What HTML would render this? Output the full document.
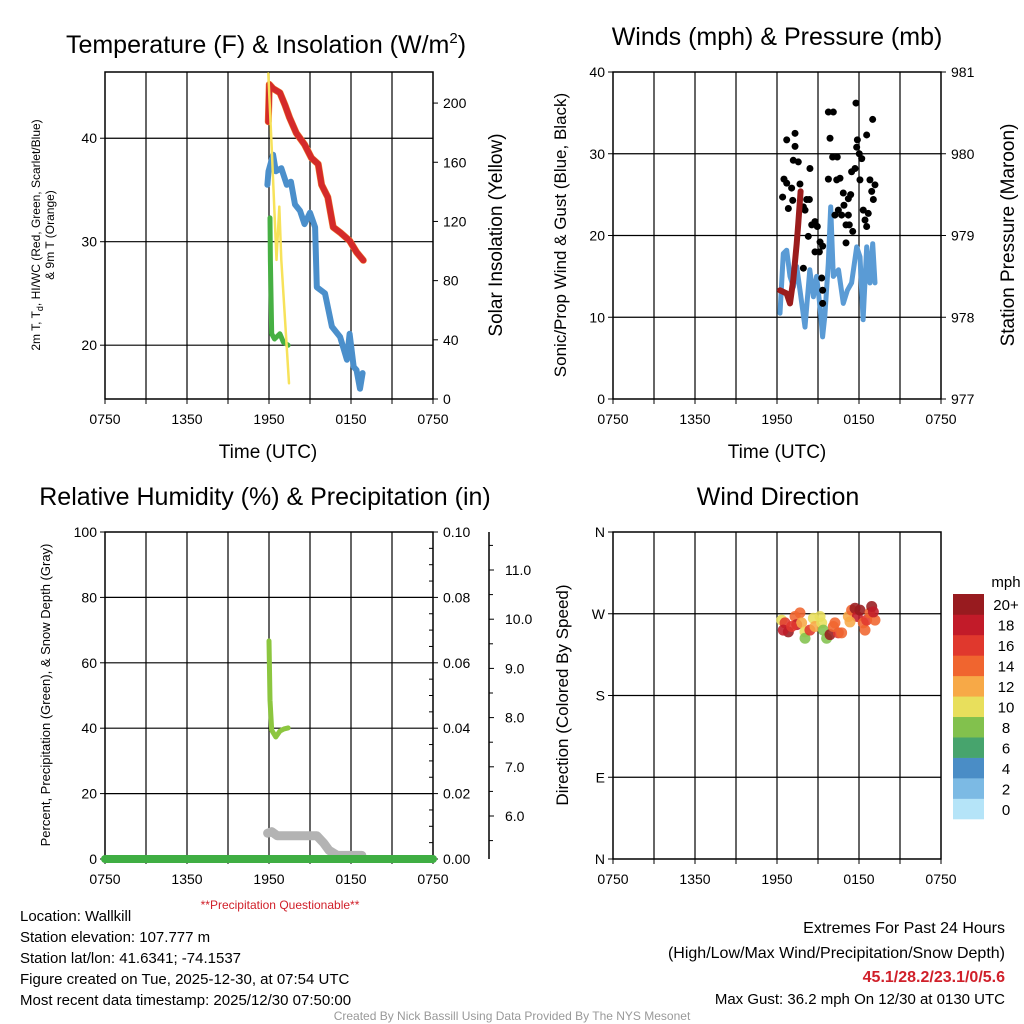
<!DOCTYPE html>
<html><head><meta charset="utf-8">
<style>
body{margin:0;background:#fff;}
svg{display:block;font-family:"Liberation Sans",Arial,sans-serif;}
</style></head>
<body>
<svg id="c" width="1024" height="1024" viewBox="0 0 1024 1024">
<rect width="1024" height="1024" fill="#fff"/>
<g id="g1"></g>
<g id="g2"></g>
<g id="g3"></g>
<g id="g4"></g>
<g font-size="15" fill="#000">
<text x="20" y="921">Location: Wallkill</text>
<text x="20" y="942">Station elevation: 107.777 m</text>
<text x="20" y="963">Station lat/lon: 41.6341; -74.1537</text>
<text x="20" y="984">Figure created on Tue, 2025-12-30, at 07:54 UTC</text>
<text x="20" y="1005">Most recent data timestamp: 2025/12/30 07:50:00</text>
<text x="1005" y="933" text-anchor="end" font-size="16">Extremes For Past 24 Hours</text>
<text x="1005" y="958" text-anchor="end" font-size="16">(High/Low/Max Wind/Precipitation/Snow Depth)</text>
<text x="1005" y="982" text-anchor="end" font-size="16" font-weight="bold" fill="#d0202a">45.1/28.2/23.1/0/5.6</text>
<text x="1005" y="1004" text-anchor="end" font-size="15">Max Gust: 36.2 mph On 12/30 at 0130 UTC</text>
<text x="512" y="1020" text-anchor="middle" font-size="12" fill="#999">Created By Nick Bassill Using Data Provided By The NYS Mesonet</text>
<text x="280" y="909" text-anchor="middle" font-size="12" fill="#d0202a">**Precipitation Questionable**</text>
</g>
</svg>
<script>
// ---- data (hours since 0750 UTC) ----
const xTickLabels = ["0750","1350","1950","0150","0750"];
const redT_h = [11.95,12.02,12.3,12.8,13.17,13.5,14.0,14.6,15.1,15.6,15.85,16.3,16.7,17.2,17.9,18.4,18.9];
const redT_v = [41.6,45.2,44.8,44.4,43.2,42.0,40.5,39.4,38.1,37.5,35.5,34.3,31.4,30.9,30.1,29.0,28.2];
const blueT_h = [11.88,11.96,12.3,12.5,12.9,13.3,13.6,13.9,14.27,14.6,15.0,15.37,15.5,16.1,16.6,17.2,17.7,17.9,18.2,18.4,18.66,18.85];
const blueT_v = [35.5,36.8,38.4,36.8,37.1,35.5,35.8,33.6,33.0,31.7,32.8,31.4,25.6,25.0,21.8,20.8,18.6,21.1,17.9,17.6,15.8,17.3];
const greenT_h = [12.07,12.1,12.2,12.4,12.8,13.05,13.4];
const greenT_v = [32.3,28.1,21.1,20.6,21.1,20.3,20.0];
const ins_h = [11.95,12.2,12.55,12.75,12.9,13.46];
const ins_v = [220,170,94,130,94,10.6];
const wind_h = [12.22,12.46,12.71,12.95,13.2,13.44,13.68,14.05,14.4,14.66,14.9,15.15,15.34,15.5,15.75,15.93,16.12,16.5,16.85,17.15,17.46,17.83,18.07,18.3,18.56,18.8,19.0,19.17];
const wind_v = [10.5,17.8,18.2,15.0,13.7,16.2,13.3,8.8,15.8,12.5,15.0,11.3,7.6,10.1,16.6,23.5,15.0,15.8,11.7,13.3,14.2,18.6,17.4,9.7,18.6,14.2,19.0,14.2];
const gust_h = [12.71,13.32,13.32,13.19,13.56,14.41,12.51,12.71,13.07,13.68,12.41,13.15,12.83,14.17,14.37,13.93,14.05,14.54,14.78,14.95,14.29,15.15,15.34,14.78,15.1,13.93,15.27,15.34,15.34,15.76,16.12,15.88,16.07,16.41,15.76,16.37,16.61,16.85,17.22,17.39,16.9,16.49,16.73,16.24,17.22,17.05,17.29,17.54,17.05,17.46,17.71,18.07,18.8,19.17,18.93,19.05,18.31,18.68,18.44,18.56,17.78,19.0,18.56,17.88,17.83,18.02,18.2];
const gust_v = [31.7,32.5,30.9,29.2,29.0,28.2,26.9,26.4,25.8,26.3,24.7,24.3,23.3,24.4,24.4,23.5,23.1,21.3,21.7,21.1,19.9,19.2,18.7,18.0,18.0,16.0,14.8,13.3,11.7,35.1,35.1,31.9,29.6,29.6,26.9,26.8,27.0,25.2,24.5,25.0,23.7,23.1,22.5,22.5,22.5,21.3,21.3,20.5,19.1,27.8,28.2,26.8,26.8,26.2,25.4,24.4,23.1,22.7,21.9,21.1,36.2,34.2,32.3,31.7,30.8,30.0,29.4];
const pres_h = [12.22,12.71,12.95,13.19,13.44,13.56,13.73];
const pres_v = [978.33,978.29,978.17,978.46,978.90,979.15,979.54];
const rh_h = [12.0,12.07,12.2,12.5,12.8,13.1,13.4];
const rh_v = [66.7,48.6,39.4,37.3,39.1,39.8,40.1];
const snow_h = [11.9,12.2,12.6,15.5,16.0,16.4,17.0,18.8];
const snow_v = [5.65,5.68,5.6,5.6,5.45,5.3,5.2,5.2];
const precip_h = [0,24];
const precip_v = [0,0];
const dir_h = [12.34,12.59,12.83,13.32,13.44,13.68,13.8,14.05,14.05,14.41,14.66,14.78,15.27,15.39,15.63,15.88,16.24,16.49,16.73,17.22,17.46,17.71,17.88,18.07,18.31,18.44,18.56,18.8,18.93,19.17,19.05,12.46,13.07,15.15,16.12,17.34];
const dir_v = [263,260,250,267,258,271,260,250,243,252,265,256,260,252,243,247,260,249,249,267,274,276,267,274,260,252,263,271,278,263,272,252,256,267,256,261];
const dir_spd = [10,16,20,14,18,14,12,10,8,16,10,12,10,8,8,20,14,16,14,12,14,20,18,20,14,14,16,14,20,14,18,18,16,10,14,12];
const cbLabels = ["0","2","4","6","8","10","12","14","16","18","20+"];
const cbColors = ["#b5e4f8","#7cbae4","#4a8dc6","#47a46d","#82c14d","#e8df5c","#f7a947","#f0652f","#e0382d","#c21b29","#981b1f"];

const NS="http://www.w3.org/2000/svg";
function mk(parent,tag,attrs){const e=document.createElementNS(NS,tag);for(const k in attrs)e.setAttribute(k,attrs[k]);parent.appendChild(e);return e;}
const PW=328, PH=327;
function xs(x0){return h=>x0+h*PW/24;}
function ys(y0,lo,hi){return v=>y0+PH-(v-lo)/(hi-lo)*PH;}

function frame(g,x0,y0,hLines,prefix){
  for(let i=1;i<8;i++){const l=mk(g,'line',{x1:x0+i*PW/8,x2:x0+i*PW/8,y1:y0,y2:y0+PH,stroke:'#000','stroke-width':1.2});
    
    }
  hLines.forEach(y=>{const l=mk(g,'line',{x1:x0,x2:x0+PW,y1:y,y2:y,stroke:'#000','stroke-width':1.2});
    
    });
  const r=mk(g,'rect',{x:x0,y:y0,width:PW,height:PH,fill:'none',stroke:'#000','stroke-width':1.5});
  
  
  for(let i=0;i<=8;i++){const t=mk(g,'line',{x1:x0+i*PW/8,x2:x0+i*PW/8,y1:y0+PH,y2:y0+PH+5,stroke:'#000'});
    
    }
  xTickLabels.forEach((s,i)=>{const t=mk(g,'text',{x:x0+i*PW/4,y:y0+PH+25,'text-anchor':'middle','font-size':14});t.textContent=s;
    
    });
}
function text(g,x,y,s,size,anchor,rot,name,extra){const a={x:x,y:y,'font-size':size,'text-anchor':anchor||'middle'};if(rot)a.transform=`rotate(-90 ${x} ${y})`;Object.assign(a,extra||{});const t=mk(g,'text',a);t.textContent=s;
  
  return t;}
function yticks(g,x,labels,ys,side,name,size,gap){labels.forEach((s,i)=>{const y=ys[i];mk(g,'line',{x1:x,x2:x+(side<0?-5:5),y1:y,y2:y,stroke:'#000'});
  const t=text(g,side<0?x-8:x+(gap||10),y+5,s,size||14,side<0?'end':'start',false,name);});}
function path(g,hs,vs,X,Y,color,w,name){let d='';hs.forEach((h,i)=>{d+=(i?'L':'M')+X(h).toFixed(1)+' '+Y(vs[i]).toFixed(1);});
  const p=mk(g,'path',{d:d,fill:'none',stroke:color,'stroke-width':w,'stroke-linecap':'round','stroke-linejoin':'round'});
  
  return p;}

// ---- Panel 1 ----
{const g=document.getElementById('g1');const x0=105,y0=72;const X=xs(x0);const Y=ys(y0,14.8,46.4);const Yi=ys(y0,0,221);
 frame(g,x0,y0,[Y(20),Y(30),Y(40)],'temp');
 yticks(g,x0,["20","30","40"],[Y(20),Y(30),Y(40)],-1,'temp-y-tick-label');
 yticks(g,x0+PW,["0","40","80","120","160","200"],[0,40,80,120,160,200].map(Yi),1,'insolation-y-tick-label');
 path(g,redT_h,redT_v,X,Y,'#f08030',7,'orange-9m-temp-line');
 path(g,redT_h,redT_v,X,Y,'#d42a2a',6,'red-temp-line');
 path(g,blueT_h,blueT_v,X,Y,'#4b8fcb',6,'blue-windchill-line');
 path(g,greenT_h,greenT_v,X,Y,'#46b043',5,'green-dewpoint-line');
 path(g,ins_h,ins_v,X,Yi,'#f7e25a',2.5,'yellow-insolation-line');
 const t=text(g,266,53,'Temperature (F) & Insolation (W/m',25,'middle',false,'temp-title');
 const sp=mk(t,'tspan',{dy:-10,'font-size':15});sp.textContent='2';const sp2=mk(t,'tspan',{dy:10});sp2.textContent=')';
 text(g,268,458,'Time (UTC)',19,'middle',false,'temp-x-axis-title');
 text(g,502,235,'Solar Insolation (Yellow)',19,'middle',true,'insolation-y-axis-title');
 const yl=text(g,40,235,'2m T, T',12,'middle',true,'temp-y-axis-title');
 const s1=mk(yl,'tspan',{'font-size':9,dy:3});s1.textContent='d';const s2=mk(yl,'tspan',{dy:-3});s2.textContent=', HI/WC (Red, Green, Scarlet/Blue)';
 text(g,54,235,'& 9m T (Orange)',12,'middle',true,'temp-y-axis-title-2');
}
// ---- Panel 2 ----
{const g=document.getElementById('g2');const x0=613,y0=72;const X=xs(x0);const Y=ys(y0,0,40);const Yp=ys(y0,977,981);
 frame(g,x0,y0,[Y(10),Y(20),Y(30)],'wind');
 yticks(g,x0,["0","10","20","30","40"],[0,10,20,30,40].map(Y),-1,'wind-y-tick-label');
 yticks(g,x0+PW,["977","978","979","980","981"],[977,978,979,980,981].map(Yp),1,'pressure-y-tick-label');
 path(g,wind_h,wind_v,X,Y,'#5a9bd5',5,'sustained-wind-line');
 gust_h.forEach((h,i)=>{const c=mk(g,'circle',{cx:X(h),cy:Y(gust_v[i]),r:3.5,fill:'#000'});
   
   });
 path(g,pres_h,pres_v,X,Yp,'#9b1c1c',6,'pressure-line');
 text(g,777,45,'Winds (mph) & Pressure (mb)',25,'middle',false,'wind-title');
 text(g,777,458,'Time (UTC)',19,'middle',false,'wind-x-axis-title');
 text(g,566,235,'Sonic/Prop Wind & Gust (Blue, Black)',17,'middle',true,'wind-y-axis-title');
 text(g,1014,235,'Station Pressure (Maroon)',19,'middle',true,'pressure-y-axis-title');
}
// ---- Panel 3 ----
{const g=document.getElementById('g3');const x0=105,y0=532;const X=xs(x0);const Y=ys(y0,0,100);const Ypr=ys(y0,0,0.1);const Ys=v=>816-(v-6)*49.2;
 frame(g,x0,y0,[Y(20),Y(40),Y(60),Y(80)],'rh');
 yticks(g,x0,["0","20","40","60","80","100"],[0,20,40,60,80,100].map(Y),-1,'rh-y-tick-label');
 yticks(g,x0+PW,["0.00","0.02","0.04","0.06","0.08","0.10"],[0,.02,.04,.06,.08,.1].map(Ypr),1,'precip-y-tick-label');
 for(let i=1;i<20;i++){if(i%4)mk(g,'line',{x1:x0+PW,x2:x0+PW-4,y1:Ypr(i*0.005),y2:Ypr(i*0.005),stroke:'#000'});}
 const ax=mk(g,'line',{x1:489,x2:489,y1:532,y2:859,stroke:'#000','stroke-width':1.5});
 
 
 yticks(g,489,["6.0","7.0","8.0","9.0","10.0","11.0"],[6,7,8,9,10,11].map(Ys),1,'snow-y-tick-label',14,16);
 [5.5,6.5,7.5,8.5,9.5,10.5,11.5].forEach(v=>mk(g,'line',{x1:489,x2:493,y1:Ys(v),y2:Ys(v),stroke:'#000'}));
 path(g,snow_h,snow_v,X,Ys,'#b3b3b3',9,'snow-depth-line');
 path(g,precip_h,precip_v,X,Ypr,'#3fae43',8,'precip-line');
 path(g,rh_h,rh_v,X,Y,'#8cc63f',5,'rh-line');
 text(g,265,505,'Relative Humidity (%) & Precipitation (in)',25,'middle',false,'rh-title');
 text(g,50,695,'Percent, Precipitation (Green), & Snow Depth (Gray)',13,'middle',true,'rh-y-axis-title');
}
// ---- Panel 4 ----
{const g=document.getElementById('g4');const x0=613,y0=532;const X=xs(x0);const Y=ys(y0,0,360);
 frame(g,x0,y0,[Y(90),Y(180),Y(270)],'dir');
 yticks(g,x0,["N","E","S","W","N"],[0,90,180,270,360].map(Y),-1,'dir-y-tick-label');
 dir_h.forEach((h,i)=>{const c=mk(g,'circle',{cx:X(h),cy:Y(dir_v[i]),r:5.5,fill:cbColors[Math.min(10,Math.round(dir_spd[i]/2))],'fill-opacity':0.88});
   
   });
 text(g,778,505,'Wind Direction',25,'middle',false,'dir-title');
 text(g,568,695,'Direction (Colored By Speed)',17,'middle',true,'dir-y-axis-title');
 const bh=225/11;
 cbColors.forEach((c,i)=>{const r=mk(g,'rect',{x:953,y:819-(i+1)*bh,width:31,height:bh+0.3,fill:c});
   
   
   text(g,1006,819-i*bh-bh/2+6,cbLabels[i],15,'middle',false,'colorbar-label');});
 text(g,1006,587,'mph',15,'middle',false,'colorbar-title');
}
</script>
</body></html>
